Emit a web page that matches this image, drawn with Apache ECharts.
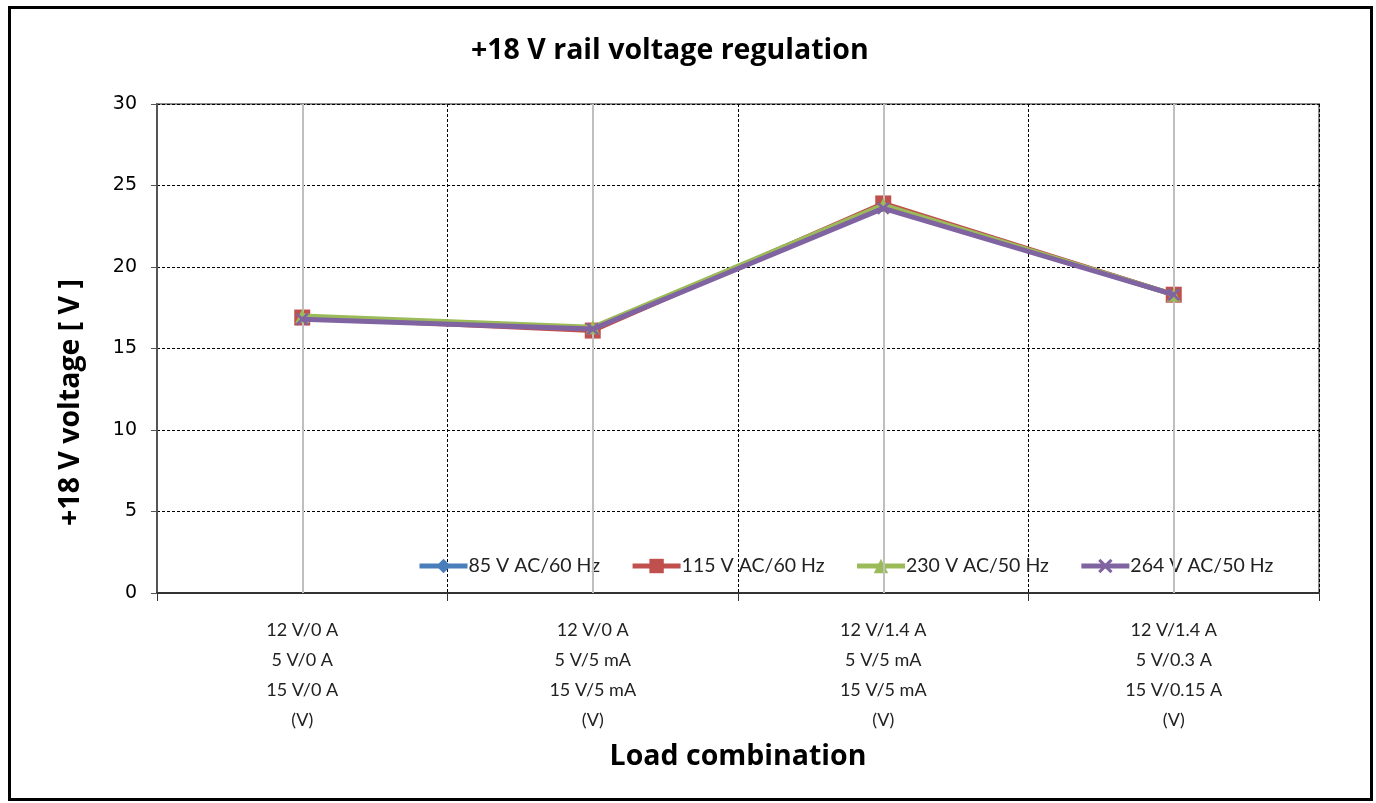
<!DOCTYPE html>
<html>
<head>
<meta charset="utf-8">
<script src="https://cdn.jsdelivr.net/npm/echarts@6/dist/echarts.min.js"></script>
<style>
  html, body { margin: 0; padding: 0; background: #fff; }
  #frame { position: absolute; left: 8px; top: 6px; width: 1359px; height: 789px; border: 3px solid #000; }
  #main { position: absolute; left: 0; top: 0; width: 1376px; height: 803px; }
</style>
</head>
<body>
<div id="frame"></div>
<div id="main"></div>
<script>
var categories = [
  '12 V/0 A\n5 V/0 A\n15 V/0 A\n(V)',
  '12 V/0 A\n5 V/5 mA\n15 V/5 mA\n(V)',
  '12 V/1.4 A\n5 V/5 mA\n15 V/5 mA\n(V)',
  '12 V/1.4 A\n5 V/0.3 A\n15 V/0.15 A\n(V)'
];
var seriesNames = ['85 V AC/60 Hz', '115 V AC/60 Hz', '230 V AC/50 Hz', '264 V AC/50 Hz'];
var v85 = [16.9, 16.2, 23.8, 18.3];
var v115 = [16.9, 16.1, 23.9, 18.3];
var v230 = [17.0, 16.3, 23.8, 18.3];
var v264 = [16.8, 16.2, 23.6, 18.3];
var yTicks = [0, 5, 10, 15, 20, 25, 30];

var colors = ['#4a7ebb', '#c0504d', '#9bbb59', '#8064a2'];
var symbols = ['diamond', 'rect', 'triangle',
  'path://M0,1.5L1.5,0L5,3.5L8.5,0L10,1.5L6.5,5L10,8.5L8.5,10L5,6.5L1.5,10L0,8.5L3.5,5Z'];
var sizes = [14, 16, 14, 13];
var values = [v85, v115, v230, v264];

var myChart = echarts.init(document.getElementById('main'));
var font = 'Lato, "Open Sans", sans-serif';
var boldFont = '"Open Sans", Lato, sans-serif';

var series = [{
  type: 'line',
  data: [],
  z: 1,
  silent: true,
  markLine: {
    silent: true,
    symbol: 'none',
    label: { show: false },
    lineStyle: { color: '#bfbfbf', type: 'solid', width: 2 },
    animation: false,
    data: categories.map(function (c) { return { xAxis: c }; })
  }
}];
for (var i = 0; i < seriesNames.length; i++) {
  series.push({
    name: seriesNames[i],
    type: 'line',
    data: values[i],
    z: 3 + i,
    symbol: symbols[i],
    symbolSize: sizes[i],
    lineStyle: { color: colors[i], width: 5 },
    itemStyle: { color: colors[i] }
  });
}

var option = {
  animation: false,
  textStyle: { fontFamily: font },
  title: {
    text: '+18 V rail voltage regulation',
    left: 466, top: 31,
    textStyle: { fontFamily: boldFont, fontWeight: 'bold', fontSize: 28.5, color: '#000' }
  },
  legend: {
    data: seriesNames,
    left: 412, top: 551,
    itemGap: 30,
    itemWidth: 48, itemHeight: 18,
    lineStyle: { width: 5 },
    textStyle: { fontFamily: font, fontSize: 19.5, color: '#222', padding: [0, 0, 0, -4] }
  },
  grid: {
    left: 157, right: 57, top: 104, bottom: 210,
    show: true, borderColor: '#8c8c8c', borderWidth: 2
  },
  xAxis: {
    type: 'category',
    data: categories,
    boundaryGap: true,
    name: 'Load combination',
    nameLocation: 'middle',
    nameGap: 149,
    nameTextStyle: { fontFamily: boldFont, fontWeight: 'bold', fontSize: 28.5, color: '#000' },
    axisLine: { lineStyle: { color: '#333', width: 2 } },
    axisTick: { show: true, length: 8, lineStyle: { color: '#333', width: 1 } },
    axisLabel: { fontSize: 18, color: '#222', lineHeight: 30, margin: 22 },
    splitLine: { show: true, lineStyle: { color: '#000', type: [3, 2], width: 1 } }
  },
  yAxis: {
    type: 'value',
    min: yTicks[0], max: yTicks[yTicks.length - 1], interval: 5,
    name: '+18 V voltage [ V ]',
    nameLocation: 'middle',
    nameGap: 72,
    nameTextStyle: {
      fontFamily: boldFont, fontWeight: 'bold', fontSize: 28.5, color: '#000',
      padding: [0, 108, 0, 0]
    },
    axisLine: { show: true, lineStyle: { color: '#555', width: 2 } },
    axisTick: { show: true, length: 6, lineStyle: { color: '#555' } },
    axisLabel: { fontSize: 19, color: '#000', margin: 20, fontFamily: 'DejaVu Sans' },
    splitLine: { show: true, lineStyle: { color: '#000', type: [3, 2], width: 1 } }
  },
  series: series
};
myChart.setOption(option);
</script>
</body>
</html>
